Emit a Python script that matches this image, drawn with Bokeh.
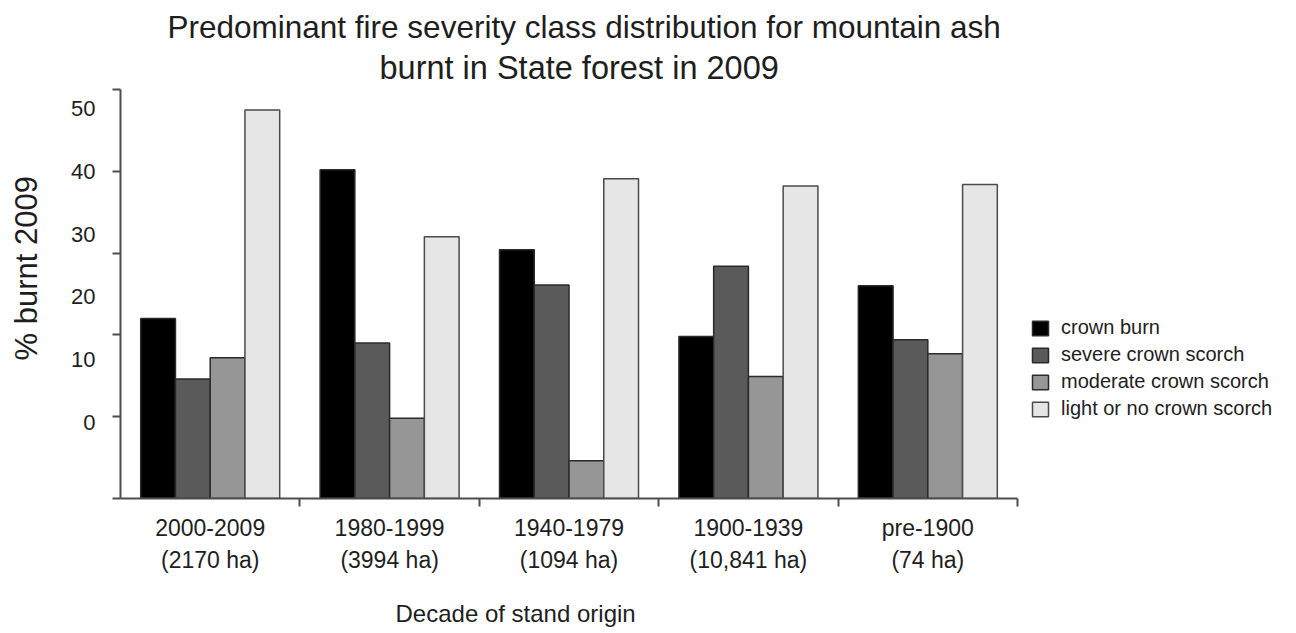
import numpy as np
from bokeh.plotting import figure
from bokeh.models import (ColumnDataSource, Range1d, LinearAxis, FixedTicker,
                          Title, Legend, LegendItem)
from bokeh.embed import file_html
from bokeh.resources import INLINE

# ---------------- data ----------------
groups = ["2000-2009", "1980-1999", "1940-1979", "1900-1939", "pre-1900"]
areas = ["(2170 ha)", "(3994 ha)", "(1094 ha)", "(10,841 ha)", "(74 ha)"]
classes = ["crown burn", "severe crown scorch", "moderate crown scorch",
           "light or no crown scorch"]
crown_burn = [22.0, 40.2, 30.4, 19.8, 26.0]
severe_crown_scorch = [14.6, 19.0, 26.1, 28.4, 19.4]
moderate_crown_scorch = [17.2, 9.8, 4.6, 14.9, 17.7]
light_or_no_scorch = [47.5, 32.0, 39.1, 38.2, 38.4]
y_ticks = [0, 10, 20, 30, 40, 50]
y_tick_labels = ["0", "10", "20", "30", "40", "50"]

title_lines = ["Predominant fire severity class distribution for mountain ash",
               "burnt in State forest in 2009"]
x_title = "Decade of stand origin"
y_title = "% burnt 2009"

# ---------------- style ----------------
fills = ["#000000", "#5a5a5a", "#969696", "#e6e6e6"]
edges = ["#2a2a2a", "#2a2a2a", "#2a2a2a", "#4a4a4a"]
AX = "#4d4d4d"
TXT = "#1e1e1e"
REG = "Liberation Sans"
PAD = "\u00a0" * 4   # invisible padding that widens the tick-label column

ngroups = len(groups)
bar_w = 0.1937
series = [crown_burn, severe_crown_scorch, moderate_crown_scorch, light_or_no_scorch]

p = figure(width=1296, height=633, output_backend="svg", toolbar_location=None,
           x_range=Range1d(0, 6.555), y_range=Range1d(0, 50.49),
           x_axis_location=None, y_axis_location=None,
           min_border_left=120, min_border_right=0,
           min_border_top=85, min_border_bottom=135,
           background_fill_color="white", border_fill_color="white")
p.title.text = ""
p.outline_line_color = None
p.xgrid.visible = False
p.ygrid.visible = False
p.extra_y_ranges = {"lab": Range1d(-12.18, 53.73)}

renderers = []
centers = np.arange(ngroups) + 0.5
for k, vals in enumerate(series):
    src = ColumnDataSource(dict(x=centers + (k - 1.5) * bar_w, top=vals,
                                group=groups))
    r = p.vbar(x="x", top="top", bottom=0, width=bar_w, source=src,
               fill_color=fills[k], line_color=edges[k], line_width=1.5)
    renderers.append(r)

# y axis: ticks and line
yax = LinearAxis(ticker=FixedTicker(ticks=y_ticks), bounds=(0, 50),
                 axis_line_color=AX, axis_line_width=2,
                 major_tick_line_color=AX, major_tick_line_width=2,
                 major_tick_in=0, major_tick_out=8,
                 minor_tick_line_color=None,
                 major_label_text_color=None, major_label_text_font_size="1px",
                 major_label_standoff=0)
p.add_layout(yax, "left")
# y axis: tick labels (placed as in the original figure)
ylab = LinearAxis(y_range_name="lab", ticker=FixedTicker(ticks=y_ticks),
                  major_label_overrides={t: PAD + s for t, s in zip(y_ticks, y_tick_labels)},
                  axis_line_color=None, major_tick_line_color=None,
                  minor_tick_line_color=None, major_tick_in=0, major_tick_out=0,
                  major_label_standoff=17,
                  major_label_text_font=REG, major_label_text_font_size="22px",
                  major_label_text_color=TXT)
p.add_layout(ylab, "left")
p.add_layout(Title(text=y_title, align="left", offset=138, standoff=0,
                   text_font=REG, text_font_size="31px",
                   text_font_style="normal", text_color=TXT), "left")

# x axis: line and group boundary ticks
xax = LinearAxis(ticker=FixedTicker(ticks=list(range(1, ngroups + 1))),
                 bounds=(0, ngroups),
                 axis_line_color=AX, axis_line_width=2,
                 major_tick_line_color=AX, major_tick_line_width=2,
                 major_tick_in=0, major_tick_out=8,
                 minor_tick_line_color=None,
                 major_label_text_color=None, major_label_text_font_size="1px",
                 major_label_standoff=0)
p.add_layout(xax, "below")
# x axis: category labels
xlab = LinearAxis(ticker=FixedTicker(ticks=list(centers)),
                  major_label_overrides={float(c): f"{g}\n{a}" for c, g, a in zip(centers, groups, areas)},
                  axis_line_color=None, major_tick_line_color=None,
                  minor_tick_line_color=None, major_tick_in=0, major_tick_out=0,
                  major_label_standoff=8,
                  major_label_text_font=REG, major_label_text_font_size="23px",
                  major_label_text_line_height=1.25,
                  major_label_text_color=TXT)
p.add_layout(xlab, "below")
p.add_layout(Title(text="\u00a0\n" + x_title, align="left", offset=275, standoff=0,
                   text_font=REG, text_font_size="24px", text_line_height=0.8,
                   text_font_style="normal", text_color=TXT), "below")

# chart title (two centred lines)
p.add_layout(Title(text=title_lines[1], align="left", offset=259, standoff=0,
                   text_font=REG, text_font_size="32.5px",
                   text_font_style="normal", text_color=TXT), "above")
p.add_layout(Title(text=title_lines[0], align="left", offset=47, standoff=5,
                   text_font=REG, text_font_size="31.5px",
                   text_font_style="normal", text_color=TXT), "above")

legend = Legend(items=[LegendItem(label=c, renderers=[r]) for c, r in zip(classes, renderers)],
                location=(910, 78), orientation="vertical",
                glyph_width=20, glyph_height=18, label_standoff=11, spacing=4,
                padding=0, margin=0, border_line_color=None,
                background_fill_alpha=0, label_text_font=REG,
                label_text_font_size="20px", label_text_color=TXT)
p.add_layout(legend)

open("out.html", "w").write(file_html(p, INLINE))
